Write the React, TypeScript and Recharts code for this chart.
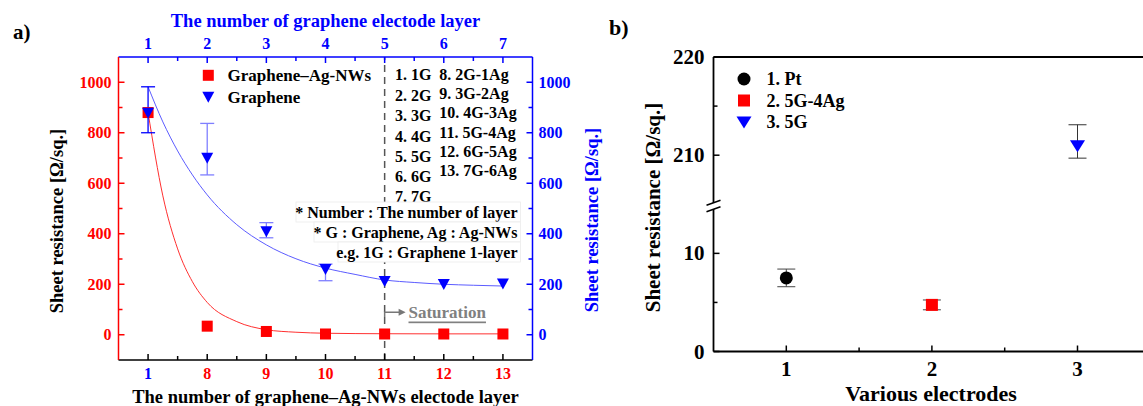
import React from "react";
import { ComposedChart, Scatter, Line, XAxis, YAxis, ErrorBar, ReferenceLine } from "recharts";

const FONT = "'Liberation Serif', 'Times New Roman', serif";
const RED = "#ff0000";
const BLUE = "#0000ff";
const LIGHT_BLUE = "#7f7fff";

// ---------- Panel a data ----------
const layerPositions = [1, 2, 3, 4, 5, 6, 7];
const agNwLayerLabels = ["1", "8", "9", "10", "11", "12", "13"];
const grapheneLayerLabels = ["1", "2", "3", "4", "5", "6", "7"];
const agNwResistance = [880, 34, 13, 3, 3, 3, 3];
const grapheneResistance = [877, 699, 408, 258, 211, 199, 201];
const grapheneErrLow = [77, 66, 24, 44, 0, 0, 0];
const grapheneErrHigh = [105, 138, 36, 22, 0, 0, 0];
const agNwFitX = [1, 1.25, 1.5, 1.75, 2, 2.5, 3, 3.5, 4, 5, 6, 7];
const agNwFitY = [880, 550, 340, 210, 128, 52, 20, 10, 6, 4, 3.5, 3.5];
const grapheneFitX = [1, 1.25, 1.5, 1.75, 2, 2.5, 3, 3.5, 4, 4.5, 5, 5.5, 6, 6.5, 7];
const grapheneFitY = [982, 843, 728, 633, 554, 436, 356, 301, 264, 239, 217, 207, 200, 196, 193];
const resistanceTicks = [0, 100, 200, 300, 400, 500, 600, 700, 800, 900, 1000];
const layerTicks = [1, 1.5, 2, 2.5, 3, 3.5, 4, 4.5, 5, 5.5, 6, 6.5, 7];
const saturationLayer = 5;
const layerNotesLeft = ["1. 1G", "2. 2G", "3. 3G", "4. 4G", "5. 5G", "6. 6G", "7. 7G"];
const layerNotesRight = ["8. 2G-1Ag", "9. 3G-2Ag", "10. 4G-3Ag", "11. 5G-4Ag", "12. 6G-5Ag", "13. 7G-6Ag"];
const footNotes = ["* Number : The number of layer", "* G : Graphene, Ag : Ag-NWs", "e.g. 1G : Graphene 1-layer"];

// ---------- Panel b data ----------
const electrodeNames = ["1. Pt", "2. 5G-4Ag", "3. 5G"];
const electrodePositions = [1, 2, 3];
const electrodeResistance = [7.5, 4.75, 210.9];
const electrodeErrLow = [0.9, 0.5, 1.2];
const electrodeErrHigh = [0.9, 0.5, 2.2];
const electrodeTicks = [1, 1.5, 2, 2.5, 3];
const upperDomain = [205, 220];
const lowerDomain = [0, 15];
const upperTicks = [210, 215, 220];
const lowerTicks = [0, 5, 10];

// ---------- derived ----------
const agNwData = layerPositions.map((x, i) => ({ x, y: agNwResistance[i] }));
const grapheneData = layerPositions.map((x, i) => ({
  x,
  y: grapheneResistance[i],
  err: [grapheneErrLow[i], grapheneErrHigh[i]],
}));
const grapheneDarkErr = grapheneData.slice(0, 1);
const grapheneLightErr = grapheneData.slice(1).filter((d) => d.err[1] > 0);
const grapheneNoErr = grapheneData.filter((d) => d.err[1] === 0);
const agNwFit = agNwFitX.map((x, i) => ({ x, y: agNwFitY[i] }));
const grapheneFit = grapheneFitX.map((x, i) => ({ x, y: grapheneFitY[i] }));
const electrodeData = electrodePositions.map((x, i) => ({
  x,
  y: electrodeResistance[i],
  err: [electrodeErrLow[i], electrodeErrHigh[i]],
}));

// ---------- layout ----------
const A = { left: 118.5, right: 532.5, top: 57, bottom: 360, w: 600, h: 406 };
const B = { left: 713.5, right: 1150.3, top: 57, brk: 204.3, bottom: 351.5, chartLeft: 600, w: 560 };

// ---------- marks ----------
const Square = ({ cx, cy, size, fill }: any) => (
  <rect x={cx - size / 2} y={cy - size / 2} width={size} height={size} fill={fill} />
);
const TriDown = ({ cx, cy, w, h, fill }: any) => (
  <polygon points={`${cx - w / 2},${cy - h / 2} ${cx + w / 2},${cy - h / 2} ${cx},${cy + h / 2}`} fill={fill} />
);
const Dot = ({ cx, cy, r, fill }: any) => <circle cx={cx} cy={cy} r={r} fill={fill} />;

interface TickOpts {
  orient: "left" | "right" | "top" | "bottom";
  isMajor: (v: number) => boolean;
  label: (v: number) => string;
  color: (v: number) => string;
  lineColor: string;
  fontSize: number;
  majorLen: number;
  minorLen: number;
  gap: number;
}

function makeTick(o: TickOpts) {
  return (props: any) => {
    const { x, y, payload } = props;
    const v = Number(payload.value);
    const major = o.isMajor(v);
    const len = major ? o.majorLen : o.minorLen;
    let x2 = x, y2 = y, tx = x, ty = y;
    let anchor: any = "middle";
    if (o.orient === "left") { x2 = x + len; tx = x - o.gap; anchor = "end"; }
    else if (o.orient === "right") { x2 = x - len; tx = x + o.gap; anchor = "start"; }
    else if (o.orient === "bottom") { y2 = y - len; ty = y + o.gap; }
    else { y2 = y + len; ty = y - o.gap; }
    return (
      <g>
        {len > 0 && <line x1={x} y1={y} x2={x2} y2={y2} stroke={o.lineColor} strokeWidth={1.5} />}
        {major && (
          <text x={tx} y={ty} textAnchor={anchor} dominantBaseline="central" fill={o.color(v)}
            fontFamily={FONT} fontWeight="bold" fontSize={o.fontSize}>
            {o.label(v)}
          </text>
        )}
      </g>
    );
  };
}

const isInt = (v: number) => Math.abs(v - Math.round(v)) < 1e-6;

function PanelA() {
  return (
    <ComposedChart width={A.w} height={A.h}
      margin={{ top: A.top - 20, bottom: A.h - A.bottom - 20, left: A.left - 40, right: A.w - A.right - 40 }}>
      <XAxis xAxisId="bottom" orientation="bottom" type="number" dataKey="x" domain={[0.5, 7.5]}
        allowDataOverflow ticks={layerTicks} interval={0} height={20} tickSize={0} tickMargin={0}
        axisLine={{ stroke: "#000", strokeWidth: 1.5 }} tickLine={false}
        tick={makeTick({
          orient: "bottom", isMajor: isInt,
          label: (v) => agNwLayerLabels[layerPositions.indexOf(v)] ?? "",
          color: (v) => (v === 1 ? BLUE : RED), lineColor: "#000", fontSize: 16, majorLen: 6, minorLen: 4, gap: 13,
        })} />
      <XAxis xAxisId="top" orientation="top" type="number" dataKey="x" domain={[0.5, 7.5]}
        allowDataOverflow ticks={layerTicks} interval={0} height={20} tickSize={0} tickMargin={0}
        axisLine={{ stroke: BLUE, strokeWidth: 1.5 }} tickLine={false}
        tick={makeTick({
          orient: "top", isMajor: isInt,
          label: (v) => grapheneLayerLabels[layerPositions.indexOf(v)] ?? "",
          color: () => BLUE, lineColor: BLUE, fontSize: 16, majorLen: 6, minorLen: 4, gap: 13.5,
        })} />
      <YAxis yAxisId="left" orientation="left" type="number" dataKey="y" domain={[-100, 1100]}
        allowDataOverflow ticks={resistanceTicks} interval={0} width={40} tickSize={0} tickMargin={0}
        axisLine={{ stroke: RED, strokeWidth: 1.5 }} tickLine={false}
        tick={makeTick({
          orient: "left", isMajor: (v) => v % 200 === 0, label: (v) => String(v),
          color: () => RED, lineColor: RED, fontSize: 16, majorLen: 6, minorLen: 4, gap: 7,
        })} />
      <YAxis yAxisId="right" orientation="right" type="number" dataKey="y" domain={[-100, 1100]}
        allowDataOverflow ticks={resistanceTicks} interval={0} width={40} tickSize={0} tickMargin={0}
        axisLine={{ stroke: BLUE, strokeWidth: 1.5 }} tickLine={false}
        tick={makeTick({
          orient: "right", isMajor: (v) => v % 200 === 0, label: (v) => String(v),
          color: () => BLUE, lineColor: BLUE, fontSize: 16, majorLen: 6, minorLen: 4, gap: 6,
        })} />
      <ReferenceLine xAxisId="bottom" yAxisId="left" x={saturationLayer} stroke="#555" strokeWidth={1.5}
        strokeDasharray="7 5" />
      <Line data={agNwFit} xAxisId="bottom" yAxisId="left" dataKey="y" type="monotone" dot={false}
        stroke="#ff3030" strokeWidth={1} isAnimationActive={false} />
      <Line data={grapheneFit} xAxisId="bottom" yAxisId="right" dataKey="y" type="monotone" dot={false}
        stroke="#5c5cff" strokeWidth={1} isAnimationActive={false} />
      <Scatter data={agNwData} xAxisId="bottom" yAxisId="left" dataKey="y" isAnimationActive={false}
        shape={(p: any) => <Square cx={p.cx} cy={p.cy} size={11} fill={RED} />} />
      <Scatter data={grapheneDarkErr} xAxisId="bottom" yAxisId="right" dataKey="y" isAnimationActive={false}
        shape={(p: any) => <TriDown cx={p.cx} cy={p.cy} w={12} h={11} fill={BLUE} />}>
        <ErrorBar dataKey="err" direction="y" width={7} stroke={BLUE} strokeWidth={1.3} />
      </Scatter>
      <Scatter data={grapheneLightErr} xAxisId="bottom" yAxisId="right" dataKey="y" isAnimationActive={false}
        shape={(p: any) => <TriDown cx={p.cx} cy={p.cy} w={12} h={11} fill={BLUE} />}>
        <ErrorBar dataKey="err" direction="y" width={7} stroke={LIGHT_BLUE} strokeWidth={1.3} />
      </Scatter>
      <Scatter data={grapheneNoErr} xAxisId="bottom" yAxisId="right" dataKey="y" isAnimationActive={false}
        shape={(p: any) => <TriDown cx={p.cx} cy={p.cy} w={12} h={11} fill={BLUE} />} />
    </ComposedChart>
  );
}

const electrodeShape = (i: number) => (p: any) => {
  if (i === 0) return <Dot cx={p.cx} cy={p.cy} r={6.5} fill="#000" />;
  if (i === 1) return <Square cx={p.cx} cy={p.cy} size={12} fill={RED} />;
  return <TriDown cx={p.cx} cy={p.cy} w={15} h={12} fill={BLUE} />;
};

const bYTick = (isMajor: (v: number) => boolean) =>
  makeTick({
    orient: "left", isMajor, label: (v) => String(v), color: () => "#000", lineColor: "#000",
    fontSize: 21, majorLen: 6, minorLen: 4, gap: 9,
  });

function PanelBUpper() {
  const h = 215;
  return (
    <ComposedChart width={B.w} height={h}
      margin={{ top: B.top - 20, bottom: h - B.brk, left: B.left - B.chartLeft - 40, right: B.chartLeft + B.w - B.right }}>
      <XAxis xAxisId="t" orientation="top" type="number" dataKey="x" domain={[0.5, 3.5]} allowDataOverflow
        height={20} tick={false} tickLine={false} axisLine={{ stroke: "#000", strokeWidth: 1.8 }} />
      <YAxis yAxisId="u" type="number" dataKey="y" domain={upperDomain} allowDataOverflow ticks={upperTicks}
        interval={0} width={40} tickSize={0} tickMargin={0} tickLine={false}
        axisLine={{ stroke: "#000", strokeWidth: 1.8 }} tick={bYTick((v) => v % 10 === 0)} />
      {electrodeData.map((d, i) =>
        d.y >= upperDomain[0] ? (
          <Scatter key={i} data={[d]} xAxisId="t" yAxisId="u" dataKey="y" isAnimationActive={false}
            shape={electrodeShape(i)}>
            <ErrorBar dataKey="err" direction="y" width={9} stroke="#333" strokeWidth={1} />
          </Scatter>
        ) : null
      )}
    </ComposedChart>
  );
}

function PanelBLower() {
  const top = 195;
  const h = 211;
  return (
    <ComposedChart width={B.w} height={h}
      margin={{ top: B.brk - top, bottom: top + h - B.bottom - 20, left: B.left - B.chartLeft - 40, right: B.chartLeft + B.w - B.right }}>
      <XAxis xAxisId="b" orientation="bottom" type="number" dataKey="x" domain={[0.5, 3.5]} allowDataOverflow
        ticks={electrodeTicks} interval={0} height={20} tickSize={0} tickMargin={0} tickLine={false}
        axisLine={{ stroke: "#000", strokeWidth: 1.8 }}
        tick={makeTick({
          orient: "bottom", isMajor: isInt, label: (v) => String(v), color: () => "#000", lineColor: "#000",
          fontSize: 21, majorLen: 6, minorLen: 4, gap: 17,
        })} />
      <YAxis yAxisId="l" type="number" dataKey="y" domain={lowerDomain} allowDataOverflow ticks={lowerTicks}
        interval={0} width={40} tickSize={0} tickMargin={0} tickLine={false}
        axisLine={{ stroke: "#000", strokeWidth: 1.8 }} tick={bYTick((v) => v % 10 === 0)} />
      {electrodeData.map((d, i) =>
        d.y <= lowerDomain[1] ? (
          <Scatter key={i} data={[d]} xAxisId="b" yAxisId="l" dataKey="y" isAnimationActive={false}
            shape={electrodeShape(i)}>
            <ErrorBar dataKey="err" direction="y" width={9} stroke="#444" strokeWidth={1} />
          </Scatter>
        ) : null
      )}
    </ComposedChart>
  );
}

const txt = (extra: any = {}) => ({
  fontFamily: FONT,
  fontWeight: "bold" as const,
  dominantBaseline: "central" as const,
  ...extra,
});

function Overlay() {
  const satX = A.left + ((saturationLayer - 0.5) / 7) * (A.right - A.left);
  const leftRows = [74, 95, 115, 136, 156, 176, 196];
  const rightRows = [74, 93.4, 112.7, 132, 151.4, 170.7];
  const footRows = [212, 232, 252];
  const footBoxLeft = [296, 314, 338];
  const brkY = 204.3;
  return (
    <svg width={1143} height={406} style={{ position: "absolute", left: 0, top: 0 }}>
      {/* panel labels */}
      <text x={13} y={32} fontSize={21} fill="#000" {...txt()}>a)</text>
      <text x={609} y={27} fontSize={22} fill="#000" {...txt()}>b)</text>

      {/* panel a titles */}
      <text x={325.5} y={20.5} fontSize={18.5} fill={BLUE} textAnchor="middle" {...txt()}>
        The number of graphene electode layer
      </text>
      <text x={325.5} y={396.5} fontSize={18.5} fill="#000" textAnchor="middle" {...txt()}>
        The number of graphene–Ag-NWs electode layer
      </text>
      <text x={57} y={221} fontSize={18.5} fill="#000" textAnchor="middle" transform="rotate(-90 57 221)" {...txt()}>
        Sheet resistance [Ω/sq.]
      </text>
      <text x={592} y={220} fontSize={18.5} fill={BLUE} textAnchor="middle" transform="rotate(-90 592 220)" {...txt()}>
        Sheet resistance [Ω/sq.]
      </text>

      {/* panel a legend */}
      <Square cx={208.3} cy={75.3} size={11} fill={RED} />
      <text x={227.5} y={75} fontSize={17} fill="#000" {...txt()}>Graphene–Ag-NWs</text>
      <TriDown cx={208.3} cy={97.3} w={12} h={11} fill={BLUE} />
      <text x={227.5} y={97} fontSize={17} fill="#000" {...txt()}>Graphene</text>

      {/* layer notes */}
      {layerNotesLeft.map((s, i) => (
        <text key={"l" + i} x={395} y={leftRows[i]} fontSize={16} fill="#000" {...txt()}>{s}</text>
      ))}
      {layerNotesRight.map((s, i) => (
        <text key={"r" + i} x={439.3} y={rightRows[i]} fontSize={16} fill="#000" {...txt()}>{s}</text>
      ))}
      {footNotes.map((s, i) => (
        <g key={"f" + i}>
          <rect x={footBoxLeft[i]} y={footRows[i] - 10} width={520.5 - footBoxLeft[i]} height={20}
            fill="#fff" stroke="#ececec" strokeWidth={0.8} />
          <text x={517.5} y={footRows[i]} fontSize={16} fill="#000" textAnchor="end" {...txt()}>{s}</text>
        </g>
      ))}

      {/* saturation arrow */}
      <polyline points={`${satX},317 ${satX},312.3 ${satX + 15},312.3`} fill="none" stroke="#777" strokeWidth={1.5} />
      <polygon points={`${satX + 14},308.8 ${satX + 21},312.3 ${satX + 14},315.8`} fill="#777" />
      <text x={408.5} y={312} fontSize={17} fill="#808080" style={{ textDecoration: "underline" }} {...txt()}>
        Saturation
      </text>

      {/* panel b titles */}
      <text x={653} y={207.5} fontSize={21} fill="#000" textAnchor="middle" transform="rotate(-90 653 207.5)" {...txt()}>
        Sheet resistance [Ω/sq.]
      </text>
      <text x={931} y={393} fontSize={22} fill="#000" textAnchor="middle" {...txt()}>Various electrodes</text>

      {/* panel b legend */}
      <Dot cx={744} cy={79} r={6.5} fill="#000" />
      <text x={766.5} y={79} fontSize={18} fill="#000" {...txt()}>{electrodeNames[0]}</text>
      <Square cx={744} cy={100.5} size={12} fill={RED} />
      <text x={766.5} y={100.5} fontSize={18} fill="#000" {...txt()}>{electrodeNames[1]}</text>
      <TriDown cx={744} cy={122.5} w={15} h={12} fill={BLUE} />
      <text x={766.5} y={122} fontSize={18} fill="#000" {...txt()}>{electrodeNames[2]}</text>

      {/* axis breaks */}
      {[B.left, B.right].map((bx, i) => (
        <g key={"brk" + i}>
          <polygon points={`${bx - 7},${brkY + 1} ${bx + 7},${brkY - 4} ${bx + 7},${brkY + 2.5} ${bx - 7},${brkY + 7.5}`} fill="#fff" />
          <line x1={bx - 7} y1={brkY + 1} x2={bx + 7} y2={brkY - 4} stroke="#000" strokeWidth={1.5} />
          <line x1={bx - 7} y1={brkY + 7.5} x2={bx + 7} y2={brkY + 2.5} stroke="#000" strokeWidth={1.5} />
        </g>
      ))}
    </svg>
  );
}

export default function App() {
  return (
    <div style={{ position: "absolute", left: 0, top: 0, width: 1143, height: 406, overflow: "hidden", background: "#fff" }}>
      <div style={{ position: "absolute", left: 0, top: 0 }}>
        <PanelA />
      </div>
      <div style={{ position: "absolute", left: B.chartLeft, top: 0 }}>
        <PanelBUpper />
      </div>
      <div style={{ position: "absolute", left: B.chartLeft, top: 195 }}>
        <PanelBLower />
      </div>
      <Overlay />
    </div>
  );
}
